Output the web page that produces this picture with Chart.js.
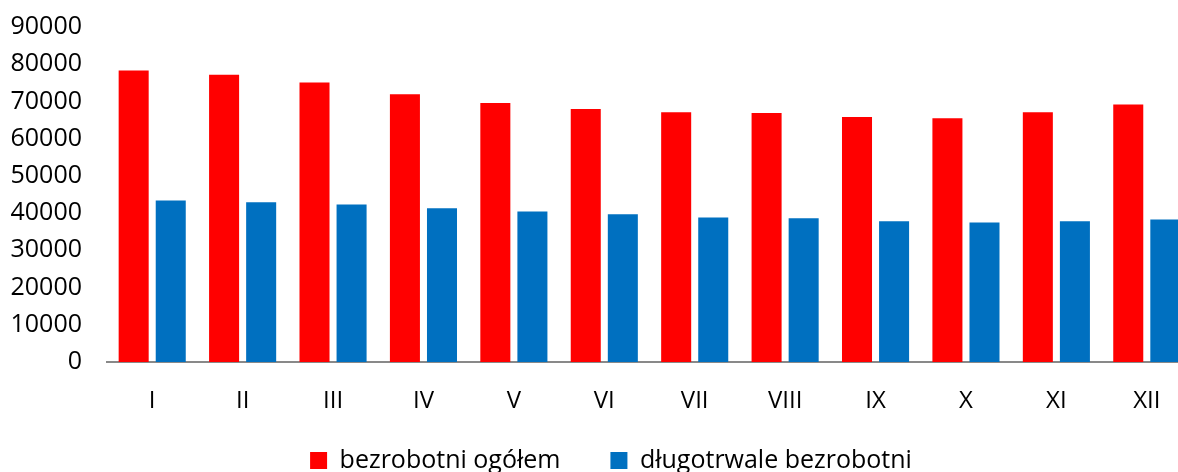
<!DOCTYPE html>
<html>
<head>
<meta charset="utf-8">
<script src="https://cdn.jsdelivr.net/npm/chart.js@4/dist/chart.umd.min.js"></script>
<style>
  html, body { margin: 0; padding: 0; background: #fff; overflow: hidden; }
  #wrap { position: relative; width: 1222px; height: 472px; }
</style>
</head>
<body>
<div id="wrap"><canvas id="c"></canvas></div>
<script>
const categories = ['I','II','III','IV','V','VI','VII','VIII','IX','X','XI','XII'];
const seriesNames = ['bezrobotni ogółem', 'długotrwale bezrobotni'];
const totalUnemployed = [78300, 77200, 75100, 71900, 69600, 68000, 67100, 66900, 65800, 65500, 67100, 69200];
const longTermUnemployed = [43400, 42900, 42300, 41300, 40400, 39700, 38800, 38600, 37800, 37500, 37800, 38300];
const yMin = 0, yMax = 90000, yStep = 10000;

const FONT = '"Open Sans", Lato, "Noto Sans", sans-serif';

// place the bottom legend band (centred under the full figure, like the original)
const legendPlacer = {
  id: 'legendPlacer',
  afterLayout(chart) {
    const lg = chart.legend;
    if (!lg) return;
    lg.left = 0;
    lg.right = chart.width;
    lg.width = chart.width;
    lg.top = 398;
    lg.bottom = chart.height + 60;
    lg.height = lg.bottom - lg.top;
  }
};

new Chart(document.getElementById('c'), {
  type: 'bar',
  data: {
    labels: categories,
    datasets: [
      { label: seriesNames[0], data: totalUnemployed, backgroundColor: '#FF0000', borderWidth: 0,
        categoryPercentage: 0.82, barPercentage: 0.81 },
      { label: seriesNames[1], data: longTermUnemployed, backgroundColor: '#0070C0', borderWidth: 0,
        categoryPercentage: 0.82, barPercentage: 0.81 }
    ]
  },
  plugins: [legendPlacer],
  options: {
    responsive: true,
    maintainAspectRatio: false,
    animation: false,
    layout: { padding: { left: 0, right: 30, top: 27, bottom: 0 } },
    plugins: {
      tooltip: { enabled: false },
      legend: {
        position: 'bottom',
        maxHeight: 40,
        labels: {
          font: { family: FONT, size: 25 },
          color: '#000',
          boxWidth: 17,
          boxHeight: 17,
          padding: 50
        }
      }
    },
    scales: {
      x: {
        grid: { display: false },
        border: { display: true, color: '#898989', width: 2 },
        ticks: { font: { family: FONT, size: 24 }, color: '#000', padding: 17 },
        afterFit(scale) { scale.height = 70; }
      },
      y: {
        min: yMin, max: yMax,
        grid: { display: false },
        border: { display: false },
        ticks: {
          stepSize: yStep, font: { family: FONT, size: 25 }, color: '#000', padding: 17,
          callback: (v) => String(v)
        },
        afterFit(scale) { scale.width = 107; scale.paddingTop = 0; scale.paddingBottom = 0; }
      }
    }
  }
});
</script>
</body>
</html>
